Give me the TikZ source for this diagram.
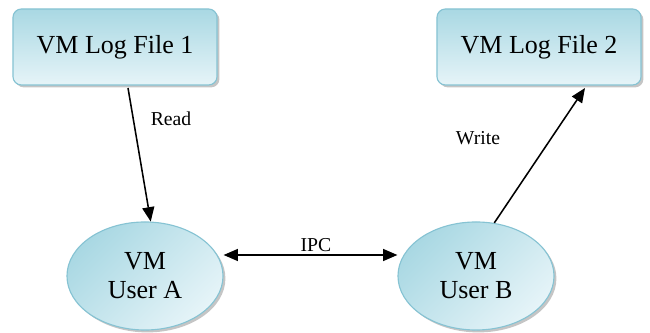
\documentclass[tikz,border=0pt]{standalone}
\usepackage{fontspec}
\setmainfont{LiberationSerif-Regular.ttf}
\newfontfamily\tnr{LiberationSerif-Regular.ttf}
\usetikzlibrary{arrows.meta,positioning,shapes.geometric,shadows}

\definecolor{vmedge}{HTML}{86C3D3}
\definecolor{vmdark}{HTML}{A9D8E3}
\definecolor{vmlight}{HTML}{E6F4F8}

\begin{document}
\begin{tikzpicture}[
  x=0.025cm, y=-0.025cm, >={Triangle[length=3.6mm,width=3mm]},
  F/.style={draw=vmedge, line width=0.8pt, rounded corners=6pt,
            top color=vmdark, bottom color=vmlight,
            drop shadow={shadow xshift=0.6mm, shadow yshift=-0.6mm, fill=black!45},
            minimum width=5.1cm, minimum height=1.9cm,
            font=\tnr\fontsize{18.5}{20}\selectfont},
  U/.style={ellipse, draw=vmedge, line width=0.8pt,
            left color=vmdark, right color=vmlight, shading angle=45,
            drop shadow={shadow xshift=0.6mm, shadow yshift=-0.6mm, fill=black!45},
            minimum width=3.9cm, minimum height=2.7cm, align=center,
            font=\tnr\fontsize{18.5}{20.5}\selectfont},
  L/.style={font=\tnr\fontsize{14}{16}\selectfont},
]
\useasboundingbox (0,0) rectangle (650,333);

\node[F] (log1) at (115,47) {VM Log File 1};
\node[F] (log2) at (539,47) {VM Log File 2};

\node[U] (usrA) at (145,276) {VM\\User A};
\node[U] (usrB) at (476,276) {VM\\User B};

% read / write
\coordinate (r0) at (128,88);
\coordinate (w1) at (585,88);
\draw[->, line width=1.1pt] (r0) -- (usrA.84);
\draw[->, line width=1.1pt] (usrB.71) -- (w1);
\node[L] (rd) at (171,119) {Read};
\node[L] (wr) at (478,138) {Write};

% ipc
\draw[<->, line width=1.1pt] (usrA.east |- 0,255) -- (usrB.west |- 0,255);
\node[L] (ipc) at (316,245) {IPC};

\end{tikzpicture}
\end{document}
